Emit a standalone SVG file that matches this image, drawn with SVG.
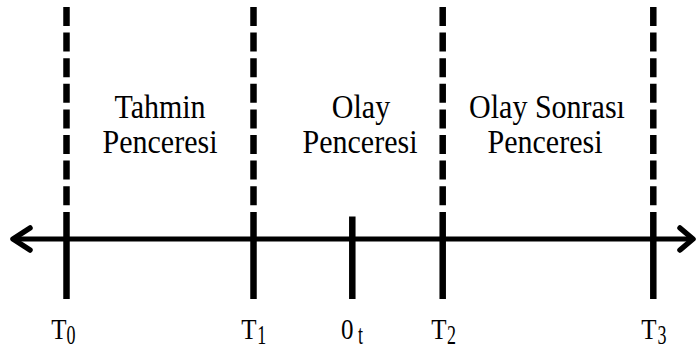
<svg xmlns="http://www.w3.org/2000/svg" width="696" height="352" viewBox="0 0 696 352">
<style>
.dash{stroke:#000;stroke-width:6.5;stroke-dasharray:19 6.6;fill:none}
.solid{stroke:#000;stroke-width:6.5;fill:none}
.axis{stroke:#000;stroke-width:5;fill:none}
.head{stroke:#000;stroke-width:5.5;fill:none;stroke-linecap:round;stroke-linejoin:round}
.lbl{font-size:30px;fill:#000;text-anchor:middle}
.t{font-size:25px;fill:#000}
.s{font-size:18px;fill:#000}
</style>
<rect width="696" height="352" fill="#fff"/>
<g id="connectors">
<line class="axis" x1="14" y1="239" x2="692" y2="239"/>
<polyline class="head" points="30,228 13,239 30,250"/>
<polyline class="head" points="680,228 693,239 680,250"/>
</g>
<g font-family="Liberation Serif, DejaVu Serif, serif">
<g id="boundary-T0">
<line class="dash" x1="66.5" y1="7" x2="66.5" y2="206"/>
<line class="solid" x1="66.5" y1="212" x2="66.5" y2="299"/>
<text class="t" transform="translate(51.3,339.3) scale(1,1.16)">T</text>
<text class="s" transform="translate(66.5,344.3) scale(1,1.5)">0</text>
</g>
<g id="boundary-T1">
<line class="dash" x1="253.5" y1="7" x2="253.5" y2="206"/>
<line class="solid" x1="253.5" y1="212" x2="253.5" y2="299"/>
<text class="t" transform="translate(241.3,339.3) scale(1,1.16)">T</text>
<text class="s" transform="translate(257.3,344.3) scale(1,1.5)">1</text>
</g>
<g id="event-0t">
<line class="solid" x1="352.3" y1="216.5" x2="352.3" y2="299"/>
<text class="t" transform="translate(341,339.3) scale(1,1.16)">0</text>
<text class="s" transform="translate(358,344.3) scale(1,1.5)">t</text>
</g>
<g id="boundary-T2">
<line class="dash" x1="442.7" y1="7" x2="442.7" y2="206"/>
<line class="solid" x1="442.7" y1="212" x2="442.7" y2="299"/>
<text class="t" transform="translate(431.3,339.3) scale(1,1.16)">T</text>
<text class="s" transform="translate(447,344.3) scale(1,1.5)">2</text>
</g>
<g id="boundary-T3">
<line class="dash" x1="653.3" y1="7" x2="653.3" y2="206"/>
<line class="solid" x1="653.3" y1="212" x2="653.3" y2="299"/>
<text class="t" transform="translate(641.3,339.3) scale(1,1.16)">T</text>
<text class="s" transform="translate(657.5,344.3) scale(1,1.5)">3</text>
</g>
<g id="window-tahmin">
<text class="lbl" transform="translate(160,117.5) scale(1,1.13)">Tahmin</text>
<text class="lbl" transform="translate(160,152.5) scale(1,1.13)">Penceresi</text>
</g>
<g id="window-olay">
<text class="lbl" transform="translate(361,117.5) scale(1,1.13)">Olay</text>
<text class="lbl" transform="translate(360,152.5) scale(1,1.13)">Penceresi</text>
</g>
<g id="window-olay-sonrasi">
<text class="lbl" transform="translate(547,117.5) scale(1,1.13)">Olay Sonrası</text>
<text class="lbl" transform="translate(545,152.5) scale(1,1.13)">Penceresi</text>
</g>
</g>
</svg>
